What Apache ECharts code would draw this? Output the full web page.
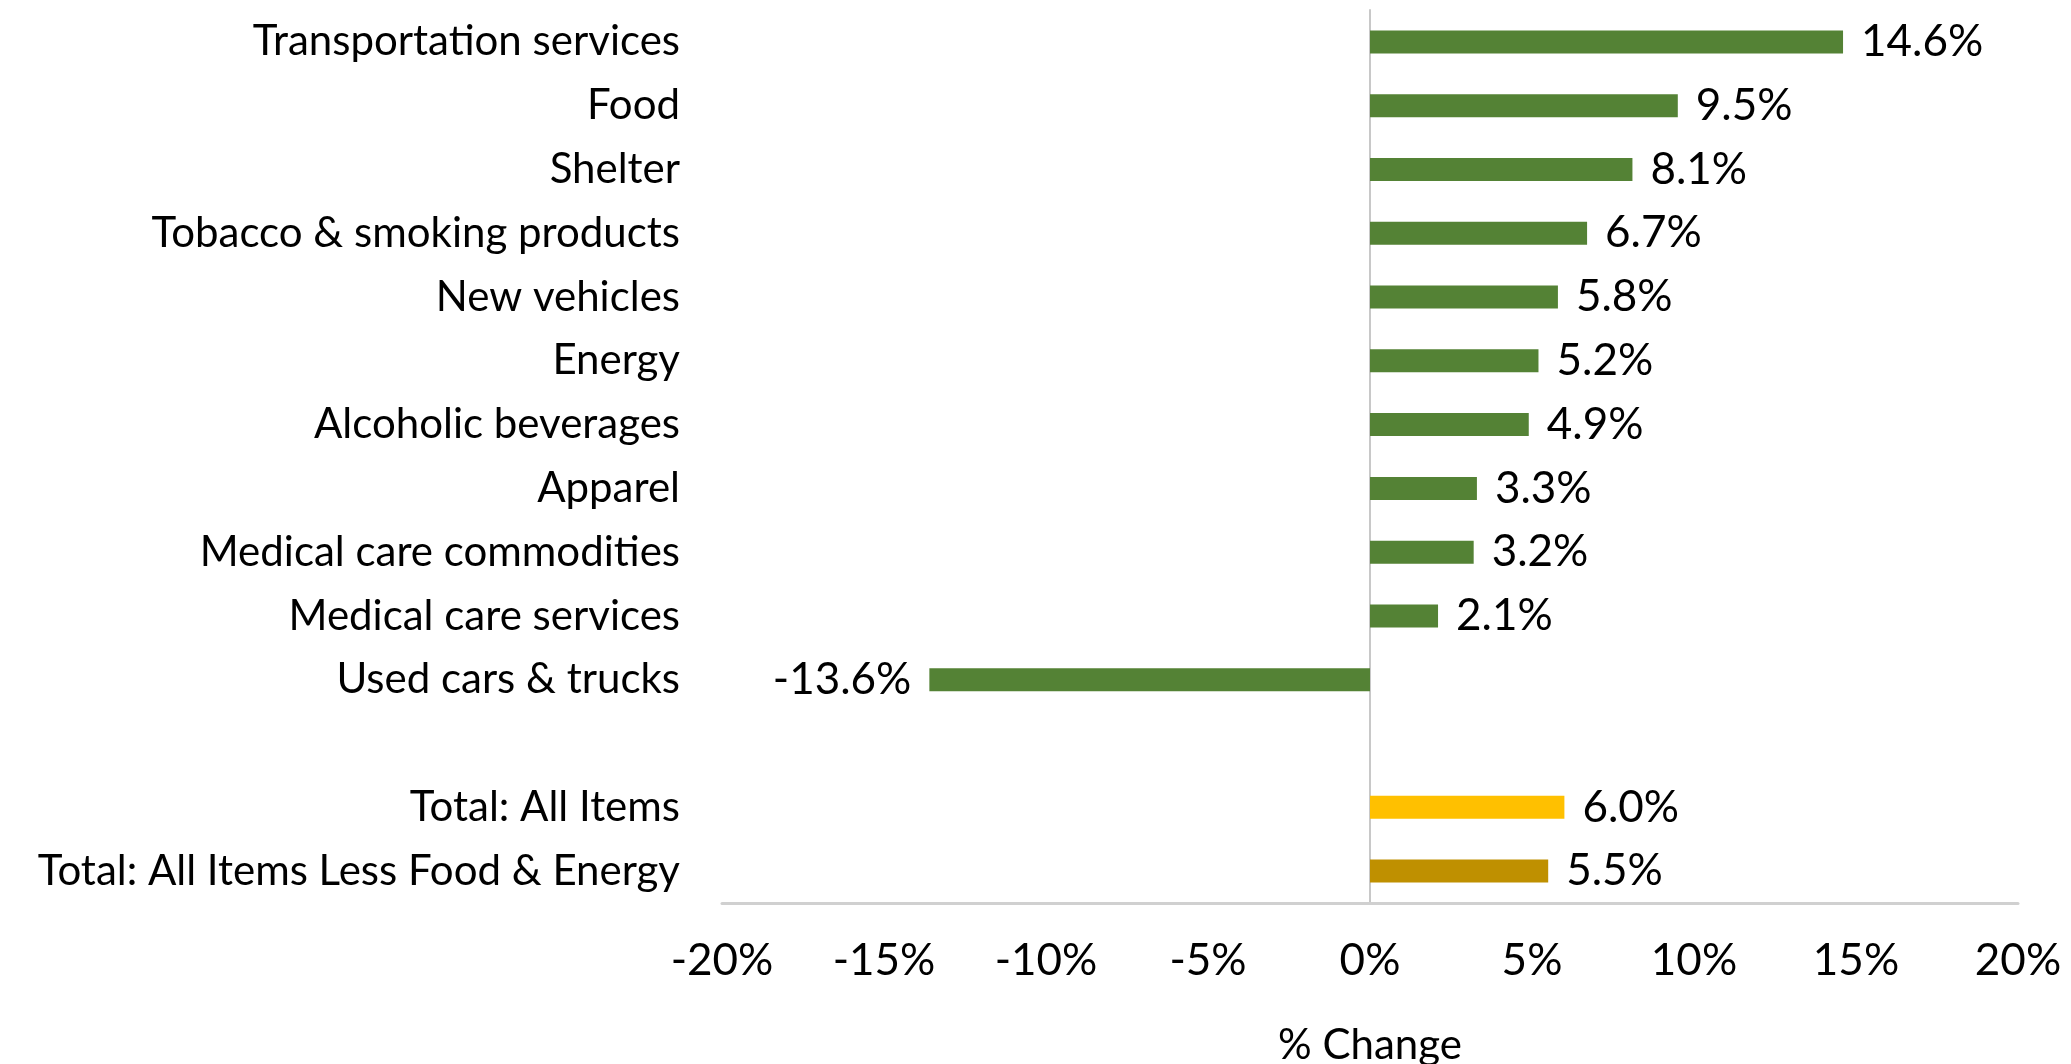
<!DOCTYPE html>
<html>
<head>
<meta charset="utf-8">
<script src="https://cdn.jsdelivr.net/npm/echarts@6/dist/echarts.min.js"></script>
<style>
html, body { margin: 0; padding: 0; background: #fff; }
#chart { width: 2071px; height: 1064px; }
</style>
</head>
<body>
<div id="chart"></div>
<script>
var categories = [
  'Transportation services', 'Food', 'Shelter', 'Tobacco & smoking products',
  'New vehicles', 'Energy', 'Alcoholic beverages', 'Apparel',
  'Medical care commodities', 'Medical care services', 'Used cars & trucks',
  '', 'Total: All Items', 'Total: All Items Less Food & Energy'
];
var values = [14.6, 9.5, 8.1, 6.7, 5.8, 5.2, 4.9, 3.3, 3.2, 2.1, -13.6, null, 6.0, 5.5];
var xTicks = { min: -20, max: 20, step: 5 };

var green = '#548235', gold = '#FFC000', darkGold = '#BF9000';
var font = 'Lato';

var barData = values.map(function (v, i) {
  var color = green;
  if (categories[i] === 'Total: All Items') color = gold;
  if (categories[i] === 'Total: All Items Less Food & Energy') color = darkGold;
  return {
    value: v === null ? '-' : v,
    itemStyle: { color: color },
    label: { position: v < 0 ? 'left' : 'right' }
  };
});

var myChart = echarts.init(document.getElementById('chart'));

var option = {
  animation: false,
  textStyle: { fontFamily: font },
  grid: { left: 722, right: 53, top: 10, bottom: 161, outerBoundsMode: 'none' },
  xAxis: {
    type: 'value',
    min: xTicks.min,
    max: xTicks.max,
    interval: xTicks.step,
    splitLine: { show: false },
    axisLine: { show: true, lineStyle: { color: '#D0D0D0', width: 3 } },
    axisTick: { show: false },
    axisLabel: {
      formatter: '{value}%',
      color: '#000',
      fontSize: 44,
      fontFamily: font,
      margin: 36
    },
    name: '% Change',
    nameLocation: 'middle',
    nameGap: 121,
    nameTextStyle: { color: '#000', fontSize: 42, fontFamily: font }
  },
  yAxis: {
    type: 'category',
    data: categories,
    inverse: true,
    axisLine: { show: true, onZero: true, lineStyle: { color: '#C8C8C8', width: 2 } },
    axisTick: { show: false },
    axisLabel: {
      color: '#000',
      fontSize: 42,
      fontFamily: font,
      margin: 42
    }
  },
  series: [{
    type: 'bar',
    data: barData,
    barWidth: 23,
    label: {
      show: true,
      color: '#000',
      fontSize: 44,
      fontFamily: font,
      distance: 18,
      formatter: function (p) { return p.value.toFixed(1) + '%'; }
    }
  }]
};

myChart.setOption(option);
</script>
</body>
</html>
